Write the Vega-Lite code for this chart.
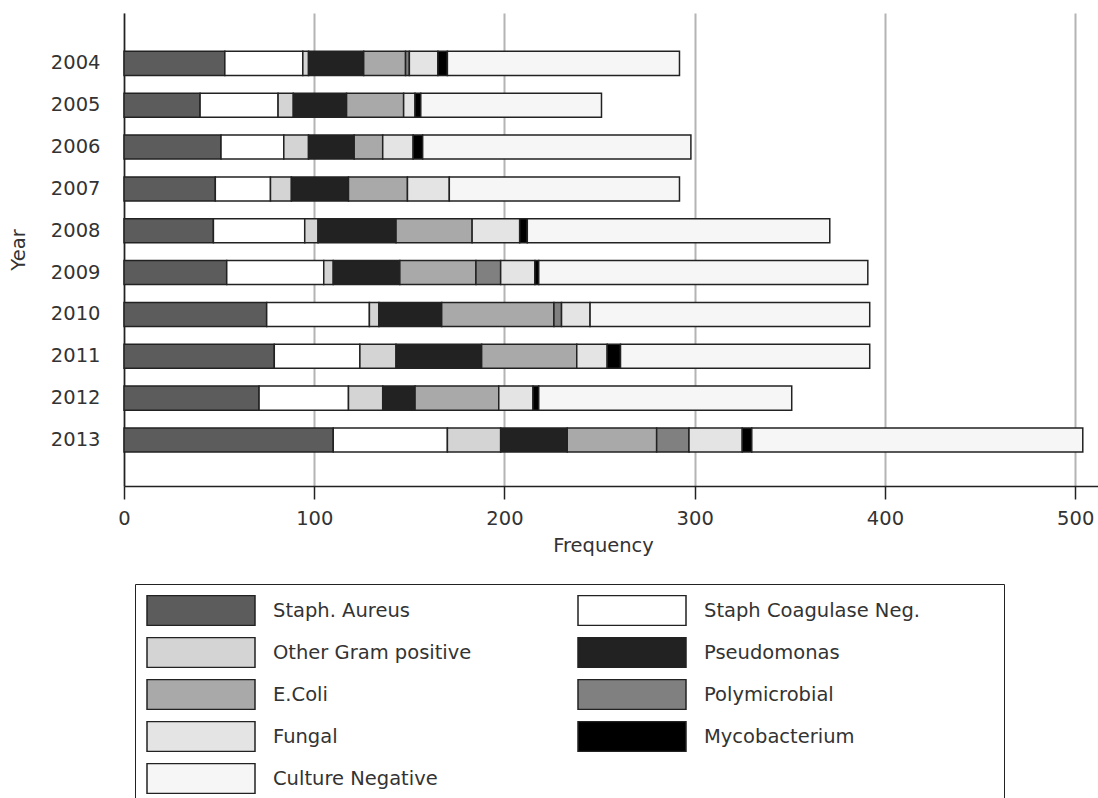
{
  "$schema": "https://vega.github.io/schema/vega-lite/v6.json",
  "width": 974,
  "height": 473,
  "autosize": {"type": "none"},
  "padding": {"left": 124, "top": 13, "right": 0, "bottom": 312},
  "background": "white",
  "config": {"view": {"stroke": null}, "font": "DejaVu Sans"},
  "data": {
    "values": [
      {"year": "2004", "cat": "Staph. Aureus", "k": 1, "n": 53},
      {"year": "2004", "cat": "Staph Coagulase Neg.", "k": 2, "n": 41},
      {"year": "2004", "cat": "Other Gram positive", "k": 3, "n": 3},
      {"year": "2004", "cat": "Pseudomonas", "k": 4, "n": 29},
      {"year": "2004", "cat": "E.Coli", "k": 5, "n": 22},
      {"year": "2004", "cat": "Polymicrobial", "k": 6, "n": 2},
      {"year": "2004", "cat": "Fungal", "k": 7, "n": 15},
      {"year": "2004", "cat": "Mycobacterium", "k": 8, "n": 5},
      {"year": "2004", "cat": "Culture Negative", "k": 9, "n": 122},
      {"year": "2005", "cat": "Staph. Aureus", "k": 1, "n": 40},
      {"year": "2005", "cat": "Staph Coagulase Neg.", "k": 2, "n": 41},
      {"year": "2005", "cat": "Other Gram positive", "k": 3, "n": 8},
      {"year": "2005", "cat": "Pseudomonas", "k": 4, "n": 28},
      {"year": "2005", "cat": "E.Coli", "k": 5, "n": 30},
      {"year": "2005", "cat": "Fungal", "k": 7, "n": 6},
      {"year": "2005", "cat": "Mycobacterium", "k": 8, "n": 3},
      {"year": "2005", "cat": "Culture Negative", "k": 9, "n": 95},
      {"year": "2006", "cat": "Staph. Aureus", "k": 1, "n": 51},
      {"year": "2006", "cat": "Staph Coagulase Neg.", "k": 2, "n": 33},
      {"year": "2006", "cat": "Other Gram positive", "k": 3, "n": 13},
      {"year": "2006", "cat": "Pseudomonas", "k": 4, "n": 24},
      {"year": "2006", "cat": "E.Coli", "k": 5, "n": 15},
      {"year": "2006", "cat": "Fungal", "k": 7, "n": 16},
      {"year": "2006", "cat": "Mycobacterium", "k": 8, "n": 5},
      {"year": "2006", "cat": "Culture Negative", "k": 9, "n": 141},
      {"year": "2007", "cat": "Staph. Aureus", "k": 1, "n": 48},
      {"year": "2007", "cat": "Staph Coagulase Neg.", "k": 2, "n": 29},
      {"year": "2007", "cat": "Other Gram positive", "k": 3, "n": 11},
      {"year": "2007", "cat": "Pseudomonas", "k": 4, "n": 30},
      {"year": "2007", "cat": "E.Coli", "k": 5, "n": 31},
      {"year": "2007", "cat": "Fungal", "k": 7, "n": 22},
      {"year": "2007", "cat": "Culture Negative", "k": 9, "n": 121},
      {"year": "2008", "cat": "Staph. Aureus", "k": 1, "n": 47},
      {"year": "2008", "cat": "Staph Coagulase Neg.", "k": 2, "n": 48},
      {"year": "2008", "cat": "Other Gram positive", "k": 3, "n": 7},
      {"year": "2008", "cat": "Pseudomonas", "k": 4, "n": 41},
      {"year": "2008", "cat": "E.Coli", "k": 5, "n": 40},
      {"year": "2008", "cat": "Fungal", "k": 7, "n": 25},
      {"year": "2008", "cat": "Mycobacterium", "k": 8, "n": 4},
      {"year": "2008", "cat": "Culture Negative", "k": 9, "n": 159},
      {"year": "2009", "cat": "Staph. Aureus", "k": 1, "n": 54},
      {"year": "2009", "cat": "Staph Coagulase Neg.", "k": 2, "n": 51},
      {"year": "2009", "cat": "Other Gram positive", "k": 3, "n": 5},
      {"year": "2009", "cat": "Pseudomonas", "k": 4, "n": 35},
      {"year": "2009", "cat": "E.Coli", "k": 5, "n": 40},
      {"year": "2009", "cat": "Polymicrobial", "k": 6, "n": 13},
      {"year": "2009", "cat": "Fungal", "k": 7, "n": 18},
      {"year": "2009", "cat": "Mycobacterium", "k": 8, "n": 2},
      {"year": "2009", "cat": "Culture Negative", "k": 9, "n": 173},
      {"year": "2010", "cat": "Staph. Aureus", "k": 1, "n": 75},
      {"year": "2010", "cat": "Staph Coagulase Neg.", "k": 2, "n": 54},
      {"year": "2010", "cat": "Other Gram positive", "k": 3, "n": 5},
      {"year": "2010", "cat": "Pseudomonas", "k": 4, "n": 33},
      {"year": "2010", "cat": "E.Coli", "k": 5, "n": 59},
      {"year": "2010", "cat": "Polymicrobial", "k": 6, "n": 4},
      {"year": "2010", "cat": "Fungal", "k": 7, "n": 15},
      {"year": "2010", "cat": "Culture Negative", "k": 9, "n": 147},
      {"year": "2011", "cat": "Staph. Aureus", "k": 1, "n": 79},
      {"year": "2011", "cat": "Staph Coagulase Neg.", "k": 2, "n": 45},
      {"year": "2011", "cat": "Other Gram positive", "k": 3, "n": 19},
      {"year": "2011", "cat": "Pseudomonas", "k": 4, "n": 45},
      {"year": "2011", "cat": "E.Coli", "k": 5, "n": 50},
      {"year": "2011", "cat": "Fungal", "k": 7, "n": 16},
      {"year": "2011", "cat": "Mycobacterium", "k": 8, "n": 7},
      {"year": "2011", "cat": "Culture Negative", "k": 9, "n": 131},
      {"year": "2012", "cat": "Staph. Aureus", "k": 1, "n": 71},
      {"year": "2012", "cat": "Staph Coagulase Neg.", "k": 2, "n": 47},
      {"year": "2012", "cat": "Other Gram positive", "k": 3, "n": 18},
      {"year": "2012", "cat": "Pseudomonas", "k": 4, "n": 17},
      {"year": "2012", "cat": "E.Coli", "k": 5, "n": 44},
      {"year": "2012", "cat": "Fungal", "k": 7, "n": 18},
      {"year": "2012", "cat": "Mycobacterium", "k": 8, "n": 3},
      {"year": "2012", "cat": "Culture Negative", "k": 9, "n": 133},
      {"year": "2013", "cat": "Staph. Aureus", "k": 1, "n": 110},
      {"year": "2013", "cat": "Staph Coagulase Neg.", "k": 2, "n": 60},
      {"year": "2013", "cat": "Other Gram positive", "k": 3, "n": 28},
      {"year": "2013", "cat": "Pseudomonas", "k": 4, "n": 35},
      {"year": "2013", "cat": "E.Coli", "k": 5, "n": 47},
      {"year": "2013", "cat": "Polymicrobial", "k": 6, "n": 17},
      {"year": "2013", "cat": "Fungal", "k": 7, "n": 28},
      {"year": "2013", "cat": "Mycobacterium", "k": 8, "n": 5},
      {"year": "2013", "cat": "Culture Negative", "k": 9, "n": 174}
    ]
  },
  "mark": {"type": "bar", "stroke": "#222222", "strokeWidth": 1.5},
  "encoding": {
    "y": {
      "field": "year",
      "type": "ordinal",
      "scale": {"paddingInner": 0.426, "paddingOuter": 0.865, "align": 0.53},
      "axis": {
        "title": "Year",
        "ticks": false,
        "labelPadding": 24,
        "labelFontSize": 19.5,
        "labelColor": "#333333",
        "titleFontSize": 19.5,
        "titleFontWeight": "normal",
        "titleColor": "#333333",
        "titleX": -106,
        "titleBaseline": "middle",
        "domainColor": "#222222",
        "domainWidth": 1.5
      }
    },
    "x": {
      "field": "n",
      "type": "quantitative",
      "stack": "zero",
      "scale": {"domain": [0, 512], "nice": false},
      "axis": {
        "title": "Frequency",
        "values": [0, 100, 200, 300, 400, 500],
        "labelFlush": false,
        "tickSize": 13,
        "tickColor": "#222222",
        "tickWidth": 1.5,
        "domainColor": "#222222",
        "domainWidth": 1.5,
        "gridColor": "#b4b4b4",
        "gridWidth": 2,
        "labelPadding": 10,
        "labelFontSize": 19.5,
        "labelColor": "#333333",
        "titleFontSize": 19.5,
        "titleFontWeight": "normal",
        "titleColor": "#333333",
        "titlePadding": 9,
        "titleX": 479
      }
    },
    "fill": {
      "field": "cat",
      "type": "nominal",
      "scale": {
        "domain": ["Staph. Aureus", "Staph Coagulase Neg.", "Other Gram positive", "Pseudomonas", "E.Coli", "Polymicrobial", "Fungal", "Mycobacterium", "Culture Negative"],
        "range": ["#5c5c5c", "#ffffff", "#d4d4d4", "#222222", "#a9a9a9", "#808080", "#e4e4e4", "#000000", "#f6f6f6"]
      },
      "legend": {
        "orient": "none",
        "direction": "horizontal",
        "legendX": 11,
        "legendY": 571,
        "columns": 2,
        "title": "\u2800\u2800\u2800\u2800",
        "titleOrient": "right",
        "titleColor": "white",
        "titleFontSize": 21.7,
        "titlePadding": 5,
        "symbolType": "M-1,-0.2778H1V0.2778H-1Z",
        "symbolSize": 11664,
        "symbolStrokeColor": "#222222",
        "symbolStrokeWidth": 1.5,
        "symbolOpacity": 1,
        "clipHeight": 31,
        "rowPadding": 11,
        "columnPadding": 105,
        "labelOffset": 17,
        "labelFontSize": 19.5,
        "labelColor": "#333333",
        "labelLimit": 400,
        "strokeColor": "#222222",
        "padding": 11
      }
    },
    "order": {"field": "k", "type": "quantitative"}
  }
}
